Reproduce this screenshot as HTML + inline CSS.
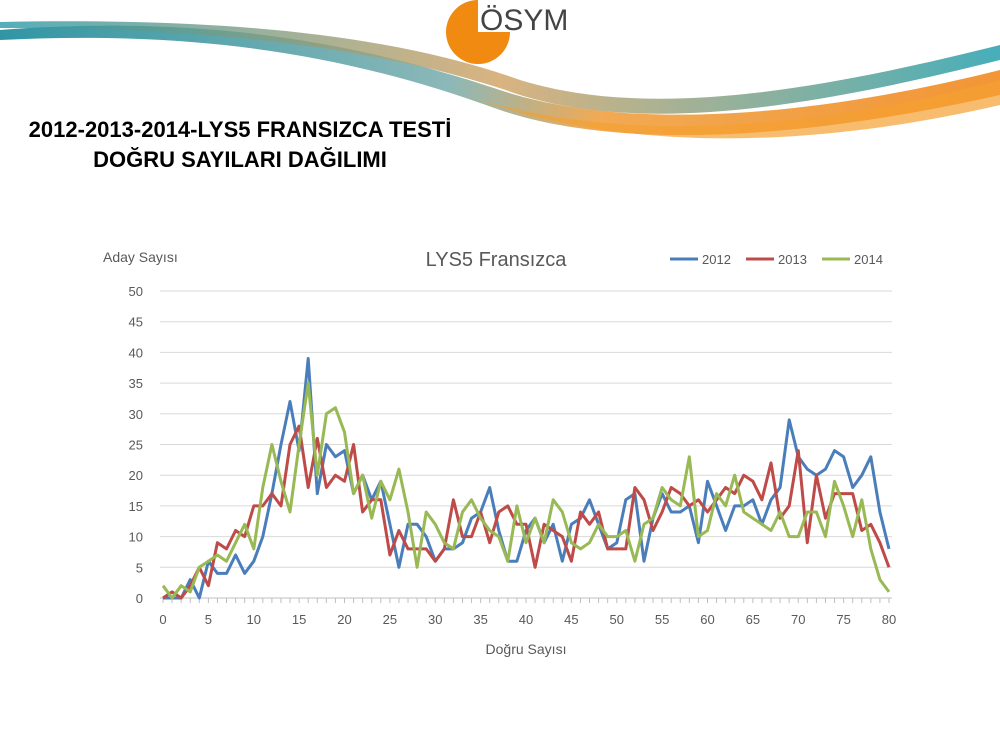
<!DOCTYPE html>
<html><head><meta charset="utf-8"><style>
body{margin:0;background:#fff;width:1000px;height:750px;overflow:hidden;font-family:"Liberation Sans",sans-serif}
</style></head><body>
<svg width="1000" height="750" xmlns="http://www.w3.org/2000/svg" font-family="Liberation Sans, sans-serif">
<defs>
<linearGradient id="g1" x1="0" x2="1"><stop offset="0" stop-color="#1a8a9a"/><stop offset="0.45" stop-color="#7fb0b0"/><stop offset="0.6" stop-color="#f0a040"/><stop offset="1" stop-color="#f08a20"/></linearGradient>
<linearGradient id="g2" x1="0" x2="1"><stop offset="0" stop-color="#2a9aa8"/><stop offset="0.5" stop-color="#d0a060"/><stop offset="1" stop-color="#1a9aa8"/></linearGradient>
</defs>
<path d="M0,30 C200,15 350,40 500,90 C620,130 800,120 1000,70 L1000,95 C800,140 620,150 500,110 C350,55 200,30 0,40 Z" fill="url(#g1)" opacity="0.9"/>
<path d="M0,22 C200,18 380,30 520,80 C650,120 820,90 1000,45 L1000,60 C820,105 650,135 520,95 C380,45 200,28 0,28 Z" fill="url(#g2)" opacity="0.8"/>
<path d="M480,100 C650,150 850,120 1000,80 L1000,105 C850,140 650,160 480,100Z" fill="#f5a030" opacity="0.7"/>
<circle cx="478" cy="32" r="32" fill="#f08a10"/>
<rect x="478" y="0" width="40" height="32" fill="#fff"/>
<text x="480" y="30" font-size="30" fill="#444">ÖSYM</text>
<text x="240" y="137" font-size="22" font-weight="bold" text-anchor="middle" fill="#000">2012-2013-2014-LYS5 FRANSIZCA TESTİ</text>
<text x="240" y="167" font-size="22" font-weight="bold" text-anchor="middle" fill="#000">DOĞRU SAYILARI DAĞILIMI</text>
<text x="103" y="262" font-size="14" fill="#595959">Aday Sayısı</text>
<text x="496" y="266" font-size="20" fill="#595959" text-anchor="middle">LYS5 Fransızca</text>
<g font-size="13" fill="#595959">
<line x1="670" y1="259" x2="698" y2="259" stroke="#4a7ebb" stroke-width="3"/><text x="702" y="264">2012</text>
<line x1="746" y1="259" x2="774" y2="259" stroke="#be4b48" stroke-width="3"/><text x="778" y="264">2013</text>
<line x1="822" y1="259" x2="850" y2="259" stroke="#98b954" stroke-width="3"/><text x="854" y="264">2014</text>
</g>
<g id="grid"></g>
<g id="series" fill="none" stroke-width="3" stroke-linejoin="round"></g>
<text x="526" y="654" font-size="14" fill="#595959" text-anchor="middle">Doğru Sayısı</text>
</svg>
<script>
var X0=163,SX=(889-163)/80,Y0=598,SY=(598-291)/50,ns="http://www.w3.org/2000/svg";
var g=document.getElementById('grid'),h='';
for(var v=0;v<=50;v+=5){var y=Y0-v*SY;h+='<line x1="160" x2="892" y1="'+y+'" y2="'+y+'" stroke="'+(v?'#d9d9d9':'#bfbfbf')+'"/>';h+='<text x="143" y="'+(y+5)+'" font-size="13" fill="#595959" text-anchor="end">'+v+'</text>';}
for(var i=0;i<=80;i++){var x=X0+i*SX;h+='<line x1="'+x+'" x2="'+x+'" y1="598" y2="603" stroke="#bfbfbf"/>';if(i%5==0)h+='<text x="'+x+'" y="624" font-size="13" fill="#595959" text-anchor="middle">'+i+'</text>';}
g.innerHTML=h;
var d={"#4a7ebb":[0,0,0,3,0,6,4,4,7,4,6,10,17,25,32,24,39,17,25,23,24,17,20,16,19,12,5,12,12,10,6,8,8,9,13,14,18,11,6,6,11,13,9,12,6,12,13,16,12,8,9,16,17,6,13,17,14,14,15,9,19,15,11,15,15,16,12,16,18,29,23,21,20,21,24,23,18,20,23,14,8],
"#be4b48":[0,1,0,2,5,2,9,8,11,10,15,15,17,15,25,28,18,26,18,20,19,25,14,16,16,7,11,8,8,8,6,8,16,10,10,14,9,14,15,12,12,5,12,11,10,6,14,12,14,8,8,8,18,16,11,14,18,17,15,16,14,16,18,17,20,19,16,22,13,15,24,9,20,13,17,17,17,11,12,9,5],
"#98b954":[2,0,2,1,5,6,7,6,9,12,8,18,25,19,14,25,35,20,30,31,27,17,20,13,19,16,21,14,5,14,12,9,8,14,16,13,11,10,6,15,9,13,9,16,14,9,8,9,12,10,10,11,6,12,13,18,16,15,23,10,11,17,15,20,14,13,12,11,14,10,10,14,14,10,19,15,10,16,8,3,1]};
var s='';for(var c in d){s+='<polyline stroke="'+c+'" points="'+d[c].map(function(v,i){return (X0+i*SX).toFixed(1)+','+(Y0-v*SY).toFixed(1)}).join(' ')+'"/>';}
document.getElementById('series').innerHTML=s;
</script>
</body></html>
